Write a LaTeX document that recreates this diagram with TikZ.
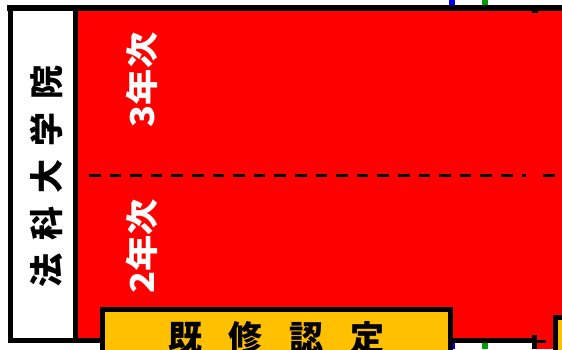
\documentclass[tikz,border=0pt]{standalone}
\usepackage{fontspec}
\newfontfamily\cjk{Noto Sans CJK JP}
\definecolor{redfill}{HTML}{FF0000}
\definecolor{orangefill}{HTML}{FFC000}
\definecolor{blueline}{HTML}{0000FF}
\definecolor{greenline}{HTML}{00A000}
\tikzset{
  boxline/.style={draw=black, line width=5pt},
  yeartext/.style={rotate=90, text=white, inner sep=0pt, font=\cjk\bfseries\fontsize{33}{33}\selectfont},
  blacktext/.style={text=black, inner sep=0pt, font=\cjk\bfseries\fontsize{34}{34}\selectfont},
}
\begin{document}
\begin{tikzpicture}[x=1pt,y=-1pt]
\useasboundingbox (0,0) rectangle (562,349);
\fill[white] (0,0) rectangle (562,349);
% vertical lines behind the red band
\draw[blueline, line width=6pt] (452,0) -- (452,349);
\draw[greenline, line width=6pt] (485,0) -- (485,349);
% red band
\fill[redfill] (75,8) rectangle (562,338.5);
\fill[redfill] (537,338) rectangle (553,349);
% black lines
\draw[black, line width=5pt] (8,340.5) -- (532,340.5);
\draw[black, line width=3pt] (535,341.5) -- (546,341.5);
\draw[black, line width=5pt] (534.5,335) -- (534.5,349);
\fill[black] (532,8) rectangle (538,13);
\draw[black, line width=6pt] (7,8) -- (562,8);
% dashed separator
\draw[black, line width=3pt, dash pattern=on 11.5pt off 9.1pt] (89,175.5) -- (526,175.5);
\draw[black, line width=3pt, dash pattern=on 11.5pt off 9.1pt] (543,175.5) -- (562,175.5);
% left white box
\draw[boxline, fill=white] (10.5,8) rectangle (75.5,340.5);
\node[blacktext, rotate=90] (law) at (46,176) {{\spaceskip=13pt 法 科 大 学 院}};
% year labels
\node[yeartext] (y3) at (142,80) {\scalebox{1.1}[1]{3年次}};
\node[yeartext] (y2) at (142,246.5) {\scalebox{1.1}[1]{2年次}};
% orange boxes
\draw[boxline, fill=orangefill] (102.5,309.5) rectangle (450.5,370);
\node[blacktext] (kishu) at (276.5,338) {{\spaceskip=27pt 既 修 認 定}};
\draw[boxline, fill=orangefill] (555,317.5) rectangle (600,370);
\end{tikzpicture}
\end{document}
